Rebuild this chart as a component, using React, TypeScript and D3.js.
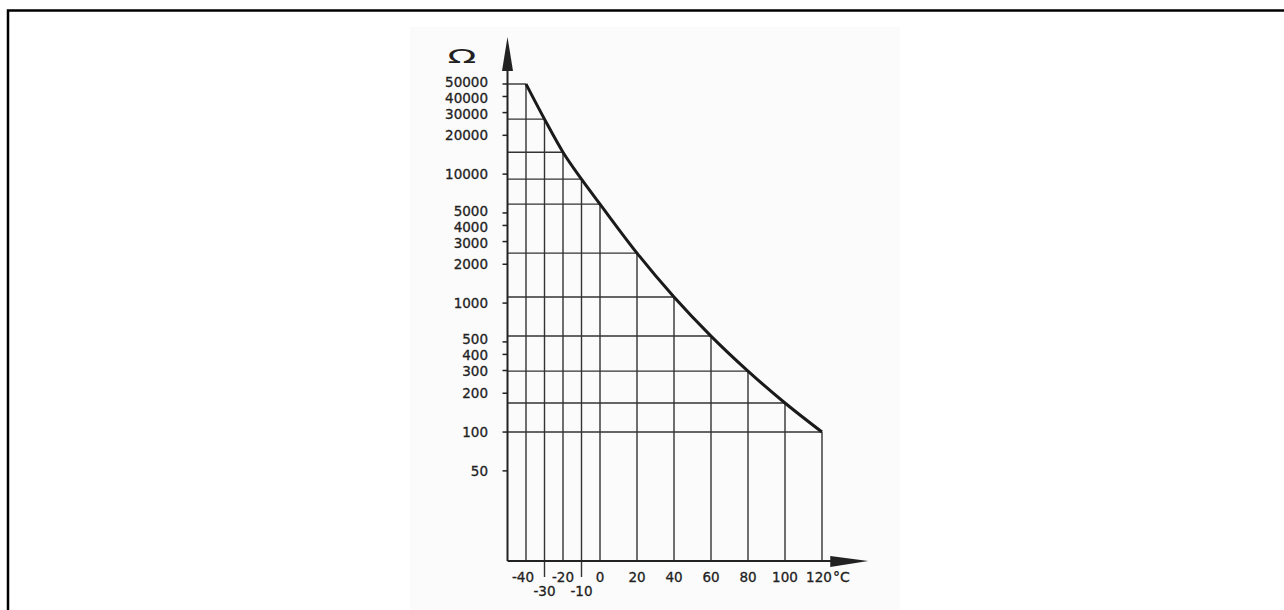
import * as d3 from "d3";

const temps = [-40, -30, -20, -10, 0, 20, 40, 60, 80, 100, 120];
const ohms = [50000, 26700, 14800, 9140, 5850, 2440, 1115, 555, 297, 168, 100];
const yTicks = [50000, 40000, 30000, 20000, 10000, 5000, 4000, 3000, 2000, 1000, 500, 400, 300, 200, 100, 50];
const lowRow = [-30, -10]; // labels pushed to a second row
const unitX = "°C";
const unitY = "Ω";

const W = 1284;
const H = 610;
const ink = "#222";
const font = "'DejaVu Sans', sans-serif";

// spread crowded labels apart, keeping each group centred
function dodge(pos: number[], gap: number) {
  const p = pos.slice();
  for (let k = 0; k < 200; k++) {
    for (let i = 1; i < p.length; i++) {
      const d = p[i] - p[i - 1];
      if (d < gap) {
        const s = (gap - d) / 2;
        p[i - 1] -= s;
        p[i] += s;
      }
    }
  }
  return p;
}

export default function App() {
  const x = d3.scaleLinear().domain([-40, 120]).range([526, 822]);
  const y = d3.scaleLog().domain([10, 50000]).range([561, 84]);

  const x0 = x(-50);
  const y0 = y(10);
  const xEnd = x(145);
  const yTop = 37;

  const pts: [number, number][] = temps.map((t, i) => [x(t), y(ohms[i])]);
  const line = d3.line().curve(d3.curveMonotoneX)(pts) || "";

  const labelY = dodge(yTicks.map((v) => y(v)), 16);

  return (
    <svg
      width={W}
      height={H}
      style={{ position: "absolute", left: 0, top: 0, display: "block", background: "#fff" }}
    >
      {/* outer frame */}
      <rect x={8} y={10.5} width={W + 20} height={H + 20} fill="none" stroke="#000" strokeWidth={2.5} />
      {/* faint scan backdrop */}
      <rect x={410} y={27} width={490} height={H - 27} fill="#fbfbfb" />

      {/* horizontal grid: axis to curve */}
      {temps.map((t, i) => (
        <line key={"h" + t} x1={x0} x2={x(t)} y1={y(ohms[i])} y2={y(ohms[i])} stroke="#333" strokeWidth={1.4} />
      ))}
      {/* vertical grid: axis to curve */}
      {temps.map((t, i) => (
        <line
          key={"v" + t}
          x1={x(t)}
          x2={x(t)}
          y1={lowRow.includes(t) ? y0 + 16 : y0}
          y2={y(ohms[i])}
          stroke="#333"
          strokeWidth={1.4}
        />
      ))}

      {/* axes */}
      <line x1={x0} x2={x0} y1={y0} y2={yTop + 20} stroke={ink} strokeWidth={2} />
      <line x1={x0} x2={xEnd - 20} y1={y0} y2={y0} stroke={ink} strokeWidth={2} />
      <path d={`M${x0},${yTop} L${x0 + 5.5},${yTop + 34} L${x0 - 5.5},${yTop + 34} Z`} fill={ink} />
      <path d={`M${xEnd},${y0} L${xEnd - 38},${y0 - 5} L${xEnd - 38},${y0 + 6} Z`} fill={ink} />

      {/* y ticks and labels */}
      {yTicks.map((v, i) => (
        <g key={"yt" + v}>
          <line x1={x0 - 5} x2={x0} y1={y(v)} y2={y(v)} stroke={ink} strokeWidth={1.5} />
          <text
            x={488}
            y={labelY[i]}
            dy="0.36em"
            textAnchor="end"
            fontFamily={font}
            fontSize={13.5}
            fill={ink}
            stroke={ink}
            strokeWidth={0.3}
          >
            {v}
          </text>
        </g>
      ))}

      {/* x labels */}
      {temps.map((t) => (
        <text
          key={"xt" + t}
          x={x(t) + (t === -40 ? -3 : t === 120 ? -3 : 0)}
          y={lowRow.includes(t) ? y0 + 35 : y0 + 21}
          textAnchor="middle"
          fontFamily={font}
          fontSize={13.5}
          fill={ink}
          stroke={ink}
          strokeWidth={0.3}
        >
          {t}
        </text>
      ))}
      <text x={x(120) + 11} y={y0 + 21} fontFamily={font} fontSize={14} fill={ink} stroke={ink} strokeWidth={0.3}>
        {unitX}
      </text>

      {/* curve */}
      <path d={line} fill="none" stroke="#1a1a1a" strokeWidth={3} />

      {/* ohm symbol */}
      <text
        transform="translate(462,63) scale(1.8,0.95)"
        textAnchor="middle"
        fontFamily={font}
        fontSize={21}
        fill={ink}
      >
        {unitY}
      </text>
    </svg>
  );
}
